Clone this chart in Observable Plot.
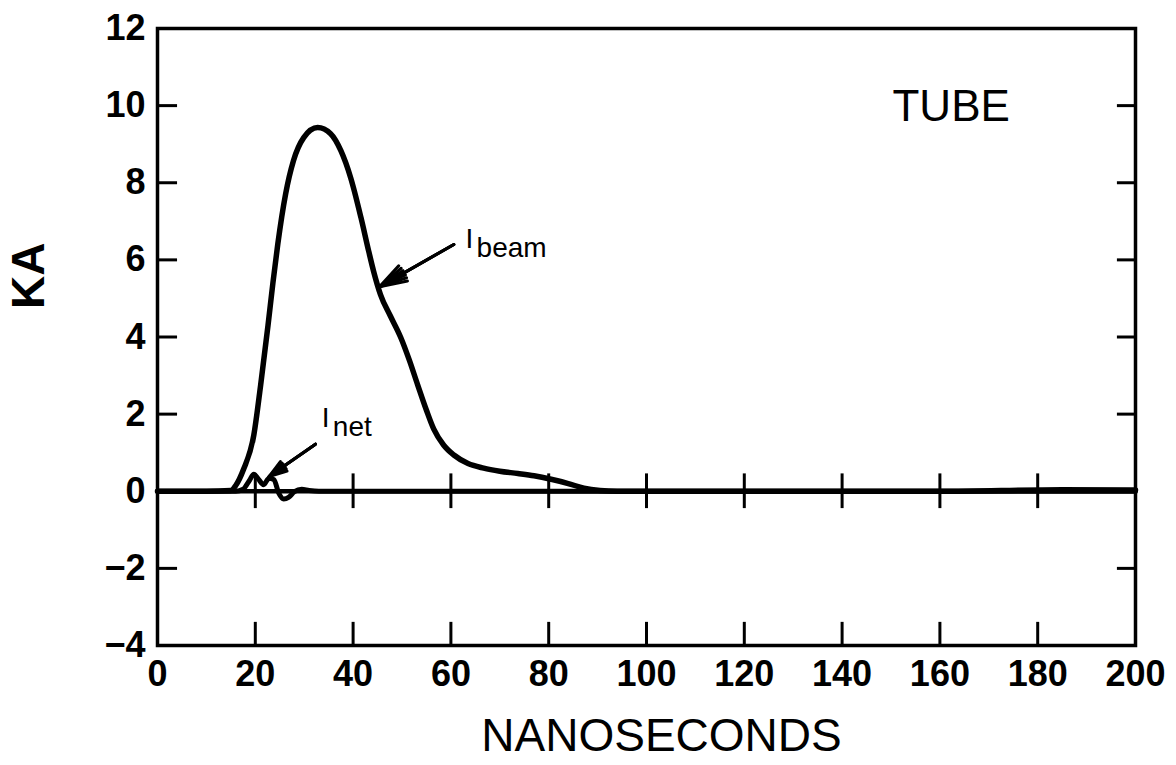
<!DOCTYPE html>
<html>
<head>
<meta charset="utf-8">
<script src="https://cdn.jsdelivr.net/npm/d3@7"></script>
<script src="https://cdn.jsdelivr.net/npm/@observablehq/plot@0.6"></script>
<style>
  html, body { margin: 0; padding: 0; background: white; }
</style>
</head>
<body>
<div id="chart"></div>
<script>
// Tick values
const xTicks = [0, 20, 40, 60, 80, 100, 120, 140, 160, 180, 200];
const yTicks = [-4, -2, 0, 2, 4, 6, 8, 10, 12];

// I_beam trace (time in ns, current in KA)
const timeBeam = [0, 10, 15, 16, 17.6, 19.7, 21.1, 22.6, 23.6, 24.6, 26.2, 27.8, 29.9, 32.75, 35.4, 37.5, 39.5, 41.6, 43.2, 44.2, 45.6, 47.6, 49.7, 51.5, 53.2, 55, 56.5, 58.5, 60.6, 63.5, 66.7, 70, 73.7, 77, 80.5, 84, 87.2, 90.5, 94, 120, 160, 185, 200];
const iBeam    = [0, 0, 0.02, 0.15, 0.57, 1.46, 2.76, 4.3, 5.4, 6.41, 7.71, 8.57, 9.17, 9.43, 9.27, 8.83, 8.13, 7.1, 6.22, 5.7, 5.1, 4.55, 4.0, 3.4, 2.76, 2.1, 1.61, 1.2, 0.94, 0.72, 0.6, 0.52, 0.46, 0.4, 0.31, 0.2, 0.08, 0.02, 0, 0, 0, 0.04, 0.03];

// I_net trace
const timeNet = [0, 16, 17.5, 18.8, 19.7, 20.6, 21.7, 22.8, 23.8, 24.8, 25.8, 26.8, 28, 29.5, 31, 33, 200];
const iNet    = [0, 0, 0.05, 0.28, 0.44, 0.32, 0.17, 0.34, 0.3, -0.05, -0.2, -0.16, -0.01, 0.05, 0.02, 0, 0];

// Annotation texts
const labelTube = "TUBE";
const labelMain = "I";
const subBeam = "beam";
const subNet = "net";
const xTitle = "NANOSECONDS";
const yTitle = "KA";

const beamRows = timeBeam.map((t, i) => ({t, v: iBeam[i]}));
const netRows = timeNet.map((t, i) => ({t, v: iNet[i]}));

const innerX = xTicks.filter(v => v > 0 && v < 200);
const innerY = yTicks.filter(v => v > -4 && v < 12 && v !== 0);

const arrows = [
  {x1: 60.6, y1: 6.4, x2: 45.4, y2: 5.3},
  {x1: 32.3, y1: 1.22, x2: 22.8, y2: 0.38}
];
const subLabels = [
  {x: 63.0, y: 6.3, main: labelMain, sub: subBeam},
  {x: 33.6, y: 1.67, main: labelMain, sub: subNet}
];

const ink = "#000";
const chart = Plot.plot({
  width: 1176,
  height: 765,
  marginLeft: 157,
  marginRight: 41,
  marginTop: 28,
  marginBottom: 120,
  x: {domain: [0, 200]},
  y: {domain: [-4, 12]},
  style: {
    fontFamily: "'Liberation Sans', Arial, sans-serif",
    fontSize: "36px",
    fontWeight: "bold",
    color: ink,
    background: "white",
    overflow: "visible"
  },
  marks: [
    Plot.axisX({ticks: xTicks, tickSize: 0, tickPadding: 15, label: null, tickFormat: d => d3.format("d")(d)}),
    Plot.axisY({ticks: yTicks, tickSize: 0, tickPadding: 12, label: null, tickFormat: d => (d < 0 ? "\u2212" : "") + Math.abs(d)}),
    // inward ticks
    Plot.ruleY(innerY, {x1: 0, x2: 4.1, stroke: ink, strokeWidth: 3}),
    Plot.ruleY(innerY, {x1: 196.3, x2: 200, stroke: ink, strokeWidth: 3}),
    Plot.ruleX(innerX, {y1: -4, y2: -3.4, stroke: ink, strokeWidth: 3}),
    Plot.ruleX(innerX, {y1: -0.45, y2: 0.45, stroke: ink, strokeWidth: 3}),
    Plot.ruleY([0], {stroke: ink, strokeWidth: 4.5}),
    Plot.frame({stroke: ink, strokeWidth: 3.5}),
    // traces
    Plot.line(netRows, {x: "t", y: "v", curve: "monotone-x", stroke: ink, strokeWidth: 5, strokeLinejoin: "round"}),
    Plot.line(beamRows, {x: "t", y: "v", curve: "monotone-x", stroke: ink, strokeWidth: 5.5, strokeLinejoin: "round"}),
    // arrows (layered heads to look filled)
    Plot.arrow(arrows, {x1: "x1", y1: "y1", x2: "x2", y2: "y2", headLength: 20, headAngle: 36, stroke: ink, strokeWidth: 3}),
    Plot.arrow(arrows, {x1: "x1", y1: "y1", x2: "x2", y2: "y2", headLength: 20, headAngle: 22, stroke: ink, strokeWidth: 3}),
    Plot.arrow(arrows, {x1: "x1", y1: "y1", x2: "x2", y2: "y2", headLength: 19, headAngle: 10, stroke: ink, strokeWidth: 3}),
    // labels
    Plot.text(subLabels, {x: "x", y: "y", text: "main", textAnchor: "start", lineAnchor: "bottom", fontSize: 28, fontWeight: "normal", fill: ink}),
    Plot.text(subLabels, {x: "x", y: "y", text: "sub", textAnchor: "start", lineAnchor: "bottom", dx: 11, dy: 9, fontSize: 28, fontWeight: "normal", fill: ink}),
    Plot.text([labelTube], {x: 162.3, y: 9.6, text: d => d, textAnchor: "middle", lineAnchor: "bottom", fontSize: 44, fontWeight: "normal", fill: ink}),
    Plot.text([xTitle], {frameAnchor: "bottom", text: d => d, dx: 15, dy: 105, lineAnchor: "bottom", fontSize: 46, fontWeight: "normal", fill: ink}),
    Plot.text([yTitle], {frameAnchor: "left", text: d => d, rotate: -90, dx: -128, dy: -28, fontSize: 46, fontWeight: "bold", fill: ink})
  ]
});
document.getElementById("chart").appendChild(chart);
</script>
</body>
</html>
